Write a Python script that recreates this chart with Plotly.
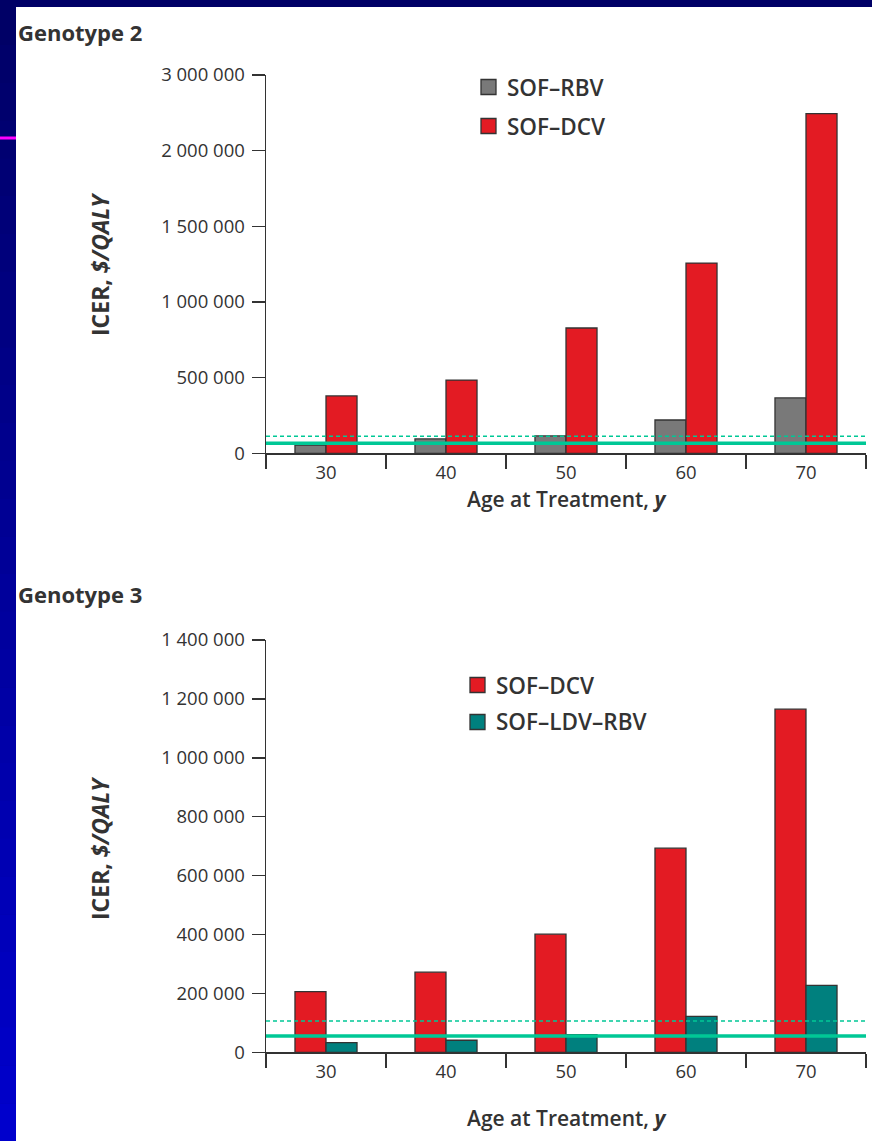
import plotly.graph_objects as go

# ---------------- data ----------------
ages = ["30", "40", "50", "60", "70"]

g2_sof_rbv = [55000, 95000, 115000, 220000, 366000]
g2_sof_dcv = [379000, 484000, 828000, 1257000, 2245000]
g2_thresholds = [66000, 112000]          # solid, dashed
g2_tickvals = [0, 500000, 1000000, 1500000, 2000000, 2500000]
g2_ticktext = ["0", "500 000", "1 000 000", "1 500 000", "2 000 000", "3 000 000"]

g3_sof_dcv = [206000, 272000, 401000, 693000, 1165000]
g3_sof_ldv_rbv = [33000, 41000, 60000, 122000, 227000]
g3_thresholds = [55000, 106000]          # solid, dashed
g3_tickvals = [0, 200000, 400000, 600000, 800000, 1000000, 1200000, 1400000]
g3_ticktext = ["0", "200 000", "400 000", "600 000", "800 000", "1 000 000", "1 200 000", "1 400 000"]

# ---------------- styles ----------------
W, H = 872, 1141
FONT = "Open Sans"
TXT = "#333333"
GRAY = "#797979"
RED = "#E31B23"
TEAL = "#00807E"
GREEN = "#00C896"
EDGE = "#333333"

def px_x(p):
    return p / W

def px_y(p):
    return 1 - p / H

fig = go.Figure()

bar_line = dict(color=EDGE, width=1.3)
fig.add_trace(go.Bar(x=ages, y=g2_sof_rbv, name="SOF–RBV", marker=dict(color=GRAY, line=bar_line),
                     xaxis="x", yaxis="y", showlegend=False))
fig.add_trace(go.Bar(x=ages, y=g2_sof_dcv, name="SOF–DCV", marker=dict(color=RED, line=bar_line),
                     xaxis="x", yaxis="y", showlegend=False))
fig.add_trace(go.Bar(x=ages, y=g3_sof_dcv, name="SOF–DCV", marker=dict(color=RED, line=bar_line),
                     xaxis="x2", yaxis="y2", showlegend=False))
fig.add_trace(go.Bar(x=ages, y=g3_sof_ldv_rbv, name="SOF–LDV–RBV", marker=dict(color=TEAL, line=bar_line),
                     xaxis="x2", yaxis="y2", showlegend=False))

xdom = [px_x(266), px_x(866)]
common_x = dict(type="category", domain=xdom, showline=True, linecolor=EDGE, linewidth=1.5,
                ticks="outside", tickson="boundaries", ticklen=14, tickwidth=1.5, tickcolor=EDGE,
                tickfont=dict(family=FONT, size=18.5, color=TXT), showgrid=False, zeroline=False,
                fixedrange=True, automargin=False, ticklabelstandoff=2)
common_y = dict(showline=True, linecolor=EDGE, linewidth=1.5, ticks="outside", ticklen=13,
                tickwidth=1.5, tickcolor=EDGE, tickfont=dict(family=FONT, size=18.5, color=TXT),
                showgrid=False, zeroline=False, tickmode="array", fixedrange=True,
                ticklabelstandoff=3, automargin=False)

fig.update_layout(
    xaxis=dict(**common_x, anchor="y"),
    yaxis=dict(**common_y, domain=[px_y(453.3), px_y(75)], range=[0, 2500000],
               tickvals=g2_tickvals, ticktext=g2_ticktext, anchor="x"),
    xaxis2=dict(**common_x, anchor="y2"),
    yaxis2=dict(**common_y, domain=[px_y(1052.3), px_y(640)], range=[0, 1400000],
                tickvals=g3_tickvals, ticktext=g3_ticktext, anchor="x2"),
    barmode="group", bargap=0.483, bargroupgap=0,
    width=W, height=H, margin=dict(l=0, r=0, t=0, b=0, pad=0, autoexpand=False),
    paper_bgcolor="#000066", plot_bgcolor="rgba(0,0,0,0)",
)

shapes = []
# white panel
shapes.append(dict(type="rect", xref="paper", yref="paper", x0=px_x(16), x1=1, y0=0, y1=px_y(7),
                   fillcolor="white", line=dict(width=0), layer="below"))
# left blue strip with vertical gradient (decoration)
n = 30
top_c = (0, 0, 102)
bot_c = (0, 0, 204)
for i in range(n):
    t = i / (n - 1)
    c = tuple(int(round(top_c[k] + (bot_c[k] - top_c[k]) * t)) for k in range(3))
    y_top = 7 + (H - 7) * i / n
    y_bot = 7 + (H - 7) * (i + 1) / n
    shapes.append(dict(type="rect", xref="paper", yref="paper", x0=0, x1=px_x(16),
                       y0=px_y(y_bot + 0.5), y1=px_y(y_top), fillcolor="rgb(%d,%d,%d)" % c,
                       line=dict(width=0), layer="below"))
# magenta accent line
shapes.append(dict(type="line", xref="paper", yref="paper", x0=0, x1=px_x(16), y0=px_y(138), y1=px_y(138),
                   line=dict(color="#FF00FF", width=3), layer="below"))

# threshold lines
for (ax, thr) in (("", g2_thresholds), ("2", g3_thresholds)):
    shapes.append(dict(type="line", xref="x%s domain" % ax, yref="y%s" % ax, x0=0, x1=1,
                       y0=thr[0], y1=thr[0], line=dict(color=GREEN, width=3.5)))
    shapes.append(dict(type="line", xref="x%s domain" % ax, yref="y%s" % ax, x0=0, x1=1,
                       y0=thr[1], y1=thr[1], line=dict(color=GREEN, width=1.5, dash="4px,3px")))

annotations = []

def legend_item(xl, yc, color, label):
    shapes.append(dict(type="rect", xref="paper", yref="paper", x0=px_x(xl), x1=px_x(xl + 15),
                       y0=px_y(yc + 7.5), y1=px_y(yc - 7.5), fillcolor=color,
                       line=dict(color=EDGE, width=1.3)))
    annotations.append(dict(text=label, xref="paper", yref="paper", x=px_x(xl + 24), y=px_y(yc),
                            xanchor="left", yanchor="middle", showarrow=False,
                            font=dict(family=FONT, size=22.5, color=TXT, weight=600)))

legend_item(481, 87, GRAY, "SOF–RBV")
legend_item(481, 126, RED, "SOF–DCV")
legend_item(470, 685, RED, "SOF–DCV")
legend_item(470, 722, TEAL, "SOF–LDV–RBV")

def text(t, x, y, size, xanchor="center", angle=0, weight=400):
    annotations.append(dict(text=t, xref="paper", yref="paper", x=px_x(x), y=px_y(y),
                            xanchor=xanchor, yanchor="middle", showarrow=False, textangle=angle,
                            font=dict(family=FONT, size=size, color=TXT, weight=weight)))

text("<b>Genotype 2</b>", 16, 32, 22, xanchor="left")
text("<b>Genotype 3</b>", 16, 594, 22, xanchor="left")
text("<b>ICER, <i>$/QALY</i></b>", 100, 264, 23, angle=-90)
text("<b>ICER, <i>$/QALY</i></b>", 100, 848, 23, angle=-90)
text("Age at Treatment, <b><i>y</i></b>", 566, 499, 21, weight=600)
text("Age at Treatment, <b><i>y</i></b>", 566, 1118, 21, weight=600)

fig.update_layout(shapes=shapes, annotations=annotations)

fig.write_html(
    "out.html",
    config={"displayModeBar": False, "staticPlot": True},
    post_script=(
        "var gd=document.getElementById('{plot_id}');"
        "gd.style.position='fixed';gd.style.top='0px';gd.style.left='0px';"
        "document.body.style.margin='0';document.body.style.padding='0';"
        "document.documentElement.style.overflow='hidden';"
    ),
)
